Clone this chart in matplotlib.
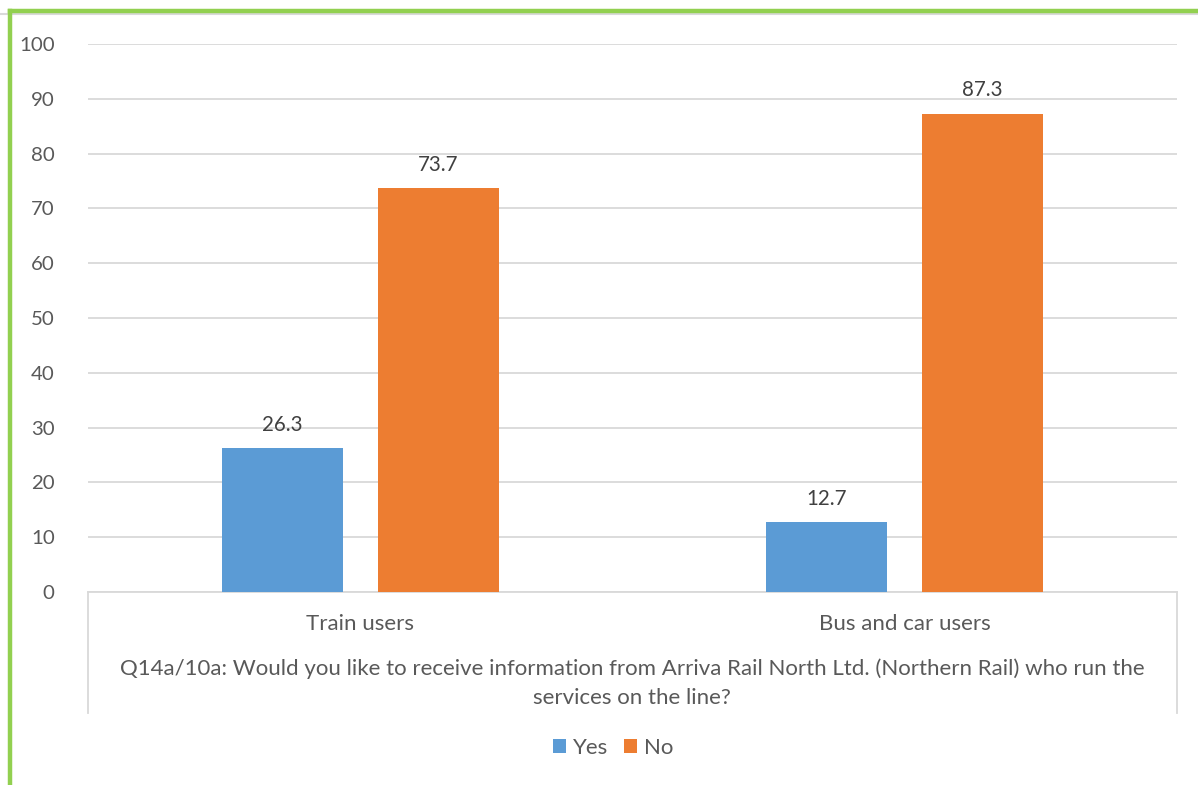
import matplotlib
matplotlib.use("Agg")
import matplotlib.pyplot as plt
from matplotlib.lines import Line2D
import numpy as np

plt.rcParams['font.family'] = ['Lato', 'DejaVu Sans']

categories = ["Train users", "Bus and car users"]
series_names = ["Yes", "No"]
yes_vals = [26.3, 12.7]
no_vals = [73.7, 87.3]
colors = ["#5b9bd5", "#ed7d31"]
question = ("Q14a/10a: Would you like to receive information from Arriva Rail North Ltd. (Northern Rail) who run the\n"
            "services on the line?")

fig = plt.figure(figsize=(11.98, 7.85), dpi=100)
ax = fig.add_axes([88 / 1198, 1 - 592 / 785, 1089 / 1198, 548 / 785])

x = np.arange(len(categories))
width = 0.222
offset = 0.143
text_col = "#595959"

for vals, dx, col, name in [(yes_vals, -offset, colors[0], series_names[0]),
                            (no_vals, offset, colors[1], series_names[1])]:
    bars = ax.bar(x + dx, vals, width, color=col, label=name, zorder=3)
    for b, v in zip(bars, vals):
        ax.annotate(f"{v:.1f}", (b.get_x() + b.get_width() / 2, v),
                    xytext=(0, 9.5), textcoords="offset points",
                    ha="center", va="bottom", fontsize=14.8, color="#404040")

ax.set_xlim(-0.5, len(categories) - 0.5)
ax.set_ylim(0, 100)
ax.set_yticks(range(0, 101, 10))
ax.yaxis.grid(True, color="#d9d9d9", linewidth=1.3, zorder=0)
ax.set_axisbelow(True)
for s in ["top", "right", "left"]:
    ax.spines[s].set_visible(False)
ax.spines["bottom"].set_color("#d9d9d9")
ax.spines["bottom"].set_linewidth(1.3)
ax.tick_params(axis="y", length=0, pad=24, labelsize=14.7, labelcolor=text_col)
ax.tick_params(axis="x", length=0, pad=16, labelsize=16, labelcolor=text_col)
ax.set_xticks(x)
ax.set_xticklabels(categories)

# category box below the axis
for xf in [88 / 1198, 1177 / 1198]:
    fig.add_artist(Line2D([xf, xf], [1 - 592 / 785, 1 - 713 / 785],
                          color="#d9d9d9", linewidth=1.3))

fig.text(632 / 1198, 1 - 683 / 785, question, ha="center", va="center",
         fontsize=16, color=text_col, linespacing=1.56)

fig.legend(loc="center", bbox_to_anchor=(613 / 1198, 1 - 748 / 785),
           ncol=2, frameon=False, fontsize=16, handlelength=0.6,
           handleheight=0.6, handletextpad=0.3, columnspacing=0.7,
           labelcolor=text_col)

# green frame around the chart
fig.add_artist(Line2D([0, 1], [1 - 14 / 785, 1 - 14 / 785], color="#d9d9d9", linewidth=1.5))
fig.add_artist(Line2D([9.5 / 1198, 1], [1 - 11 / 785, 1 - 11 / 785], color="#92d050", linewidth=3.2))
fig.add_artist(Line2D([9.5 / 1198, 9.5 / 1198], [0, 1 - 11 / 785], color="#92d050", linewidth=3.2))

fig.savefig("out.png", dpi=100, facecolor="white")
